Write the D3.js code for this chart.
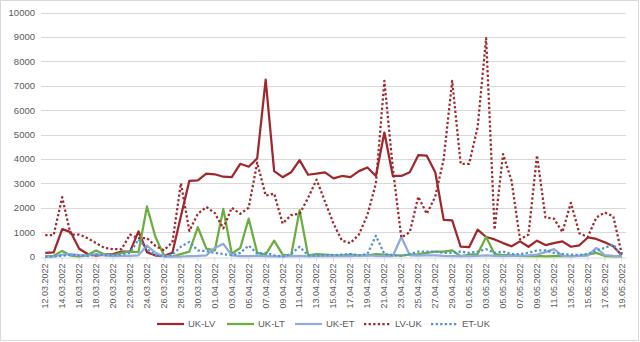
<!DOCTYPE html>
<html>
<head>
<meta charset="utf-8">
<script src="https://cdn.jsdelivr.net/npm/d3@7"></script>
<style>
  html, body { margin: 0; padding: 0; background: #fff; }
  svg { display: block; font-family: "Liberation Sans", Arial, sans-serif; }
</style>
</head>
<body>
<svg id="chart" width="640" height="342"></svg>
<script>
const dates = [
  "12.03.2022","13.03.2022","14.03.2022","15.03.2022","16.03.2022","17.03.2022","18.03.2022","19.03.2022",
  "20.03.2022","21.03.2022","22.03.2022","23.03.2022","24.03.2022","25.03.2022","26.03.2022","27.03.2022",
  "28.03.2022","29.03.2022","30.03.2022","31.03.2022","01.04.2022","02.04.2022","03.04.2022","04.04.2022",
  "05.04.2022","06.04.2022","07.04.2022","08.04.2022","09.04.2022","10.04.2022","11.04.2022","12.04.2022",
  "13.04.2022","14.04.2022","15.04.2022","16.04.2022","17.04.2022","18.04.2022","19.04.2022","20.04.2022",
  "21.04.2022","22.04.2022","23.04.2022","24.04.2022","25.04.2022","26.04.2022","27.04.2022","28.04.2022",
  "29.04.2022","30.04.2022","01.05.2022","02.05.2022","03.05.2022","04.05.2022","05.05.2022","06.05.2022",
  "07.05.2022","08.05.2022","09.05.2022","10.05.2022","11.05.2022","12.05.2022","13.05.2022","14.05.2022",
  "15.05.2022","16.05.2022","17.05.2022","18.05.2022","19.05.2022"
];
const seriesNames = ["UK-LV", "UK-LT", "UK-ET", "LV-UK", "ET-UK"];
const ukLV = [150,170,1120,1000,320,100,40,80,100,200,200,1030,180,40,30,150,1650,3100,3120,3400,3370,3270,3250,3800,
  3680,4020,7250,3500,3250,3450,3950,3350,3400,3450,3200,3300,3250,3500,3650,3300,5080,3300,3300,3450,4150,4130,3450,1500,
  1480,400,380,1100,800,700,550,420,620,400,650,470,550,620,400,460,780,720,580,420,50];
const ukLT = [20,30,230,40,0,60,250,80,50,150,200,180,2050,800,50,0,100,200,1200,320,250,1950,120,350,
  1550,150,80,650,80,30,1900,50,100,80,60,50,80,50,50,100,80,60,40,80,100,150,200,200,
  250,10,80,100,800,100,60,50,30,20,30,10,20,30,20,30,80,150,20,10,0];
const ukET = [0,0,80,100,60,30,100,50,20,30,30,50,450,150,0,0,0,20,30,50,350,520,50,20,
  20,30,20,10,10,20,30,10,20,20,30,20,20,40,50,30,20,20,800,50,40,50,50,30,
  20,30,20,30,50,30,20,30,40,50,80,180,300,30,20,30,40,350,60,30,20];
const lvUK = [880,880,2430,900,900,750,550,350,300,300,900,750,750,430,260,580,3000,1050,1750,2030,1780,1150,2000,1750,
  2000,3850,2500,2580,1350,1700,1750,2400,3150,2250,1350,650,550,900,1700,3000,7200,3600,780,1000,2450,1750,2450,4000,
  7200,3800,3800,5300,8950,1100,4200,3100,700,900,4150,1600,1550,1000,2200,950,800,1600,1800,1650,100];
const etUK = [0,0,30,60,50,30,80,50,60,80,150,700,300,50,0,80,400,600,250,220,150,100,50,150,
  450,120,150,50,0,100,400,50,30,60,50,80,100,50,100,850,100,50,30,100,200,200,200,150,
  150,200,150,200,300,150,200,100,100,150,250,250,150,100,80,60,100,250,350,500,0];
const yTicks = [0,1000,2000,3000,4000,5000,6000,7000,8000,9000,10000];

const colors = {"UK-LV": "#A0282C", "UK-LT": "#6AAE3F", "UK-ET": "#8EABDC", "LV-UK": "#A0282C", "ET-UK": "#4F93D6"};
const dashed = {"UK-LV": false, "UK-LT": false, "UK-ET": false, "LV-UK": true, "ET-UK": true};
const valuesByName = {"UK-LV": ukLV, "UK-LT": ukLT, "UK-ET": ukET, "LV-UK": lvUK, "ET-UK": etUK};

const svg = d3.select("#chart");
const plot = {left: 41, right: 626, top: 12.5, bottom: 256.5};

svg.append("rect").attr("x", 0.5).attr("y", 0.5).attr("width", 638).attr("height", 340)
  .attr("fill", "#fff").attr("stroke", "#d9d9d9");

const x = d3.scaleBand().domain(dates).range([plot.left, plot.right]).padding(0);
const y = d3.scaleLinear().domain([0, 10000]).range([plot.bottom, plot.top]);
const cx = d => x(d) + x.bandwidth() / 2;

// gridlines
svg.append("g").selectAll("line").data(yTicks.filter(t => t > 0)).join("line")
  .attr("x1", plot.left).attr("x2", plot.right)
  .attr("y1", d => Math.round(y(d)) + 0.5).attr("y2", d => Math.round(y(d)) + 0.5)
  .attr("stroke", "#d9d9d9").attr("stroke-width", 1);

// y axis labels
const yAxis = d3.axisLeft(y).tickValues(yTicks).tickSize(0).tickPadding(6).tickFormat(d3.format("d"));
const gy = svg.append("g").attr("transform", `translate(${plot.left},0)`).call(yAxis);
gy.select(".domain").remove();
gy.selectAll("text").attr("fill", "#595959").style("font-size", "9.5px")
  .style("font-family", "'Liberation Sans', Arial, sans-serif");

// x axis
const labelled = dates.filter((d, i) => i % 2 === 0);
const xAxis = d3.axisBottom(x).tickValues(labelled).tickSize(4).tickSizeOuter(0);
const gx = svg.append("g").attr("transform", `translate(0,${Math.round(y(0)) + 0.5})`).call(xAxis);
gx.select(".domain").attr("stroke", "#d9d9d9");
gx.selectAll(".tick line").attr("stroke", "#d9d9d9");
gx.selectAll("text")
  .attr("fill", "#595959").style("font-size", "9px")
  .style("font-family", "'Liberation Sans', Arial, sans-serif")
  .attr("text-anchor", "end")
  .attr("transform", "rotate(-90)")
  .attr("x", -6).attr("y", 0).attr("dy", "0.32em");

// lines
const line = d3.line().x(d => cx(d.date)).y(d => y(d.value));
seriesNames.forEach(name => {
  const pts = dates.map((d, i) => ({date: d, value: valuesByName[name][i]}));
  svg.append("path").datum(pts)
    .attr("fill", "none")
    .attr("stroke", colors[name])
    .attr("stroke-width", 2.25)
    .attr("stroke-linejoin", "round")
    .attr("stroke-dasharray", dashed[name] ? "2.3,2.3" : null)
    .attr("d", line);
});

// legend
const legendX = [157, 227, 295, 364, 431];
const lg = svg.append("g");
seriesNames.forEach((name, i) => {
  const g = lg.append("g").attr("transform", `translate(${legendX[i]},324)`);
  g.append("line").attr("x1", 0).attr("x2", 27).attr("y1", 0).attr("y2", 0)
    .attr("stroke", colors[name]).attr("stroke-width", 2.25)
    .attr("stroke-dasharray", dashed[name] ? "2.3,2.3" : null);
  g.append("text").attr("x", 31).attr("y", 0).attr("dy", "0.35em")
    .attr("fill", "#595959").style("font-size", "9.5px").text(name);
});
</script>
</body>
</html>
